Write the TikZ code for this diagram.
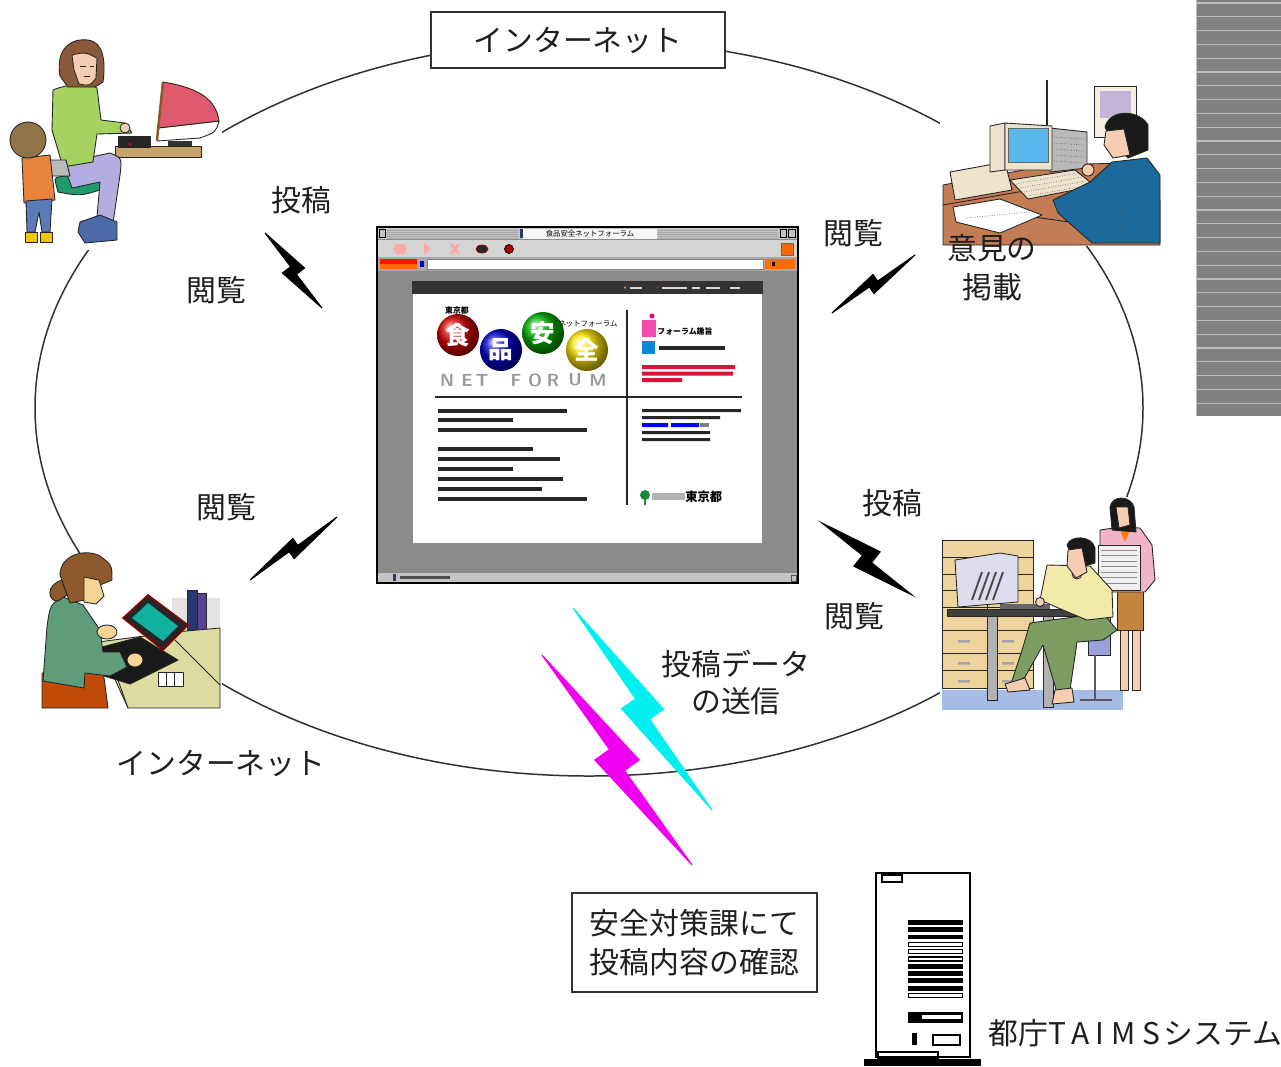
\documentclass[tikz,border=0pt]{standalone}
\usepackage{fontspec}
\newfontfamily\jp{Noto Sans CJK JP}
\usetikzlibrary{calc}

\definecolor{ringc}{HTML}{303030}
\definecolor{winbody}{HTML}{8B8B8B}
\definecolor{titlec}{HTML}{C4C4C4}
\definecolor{toolc}{HTML}{D4D4D4}
\definecolor{addrc}{HTML}{A8A8A8}
\definecolor{stripe}{HTML}{808080}
\definecolor{stripeline}{HTML}{BDBDBD}
\definecolor{skin}{HTML}{F6CDB0}
\definecolor{skinb}{HTML}{F6D494}
\definecolor{sweater}{HTML}{A6D262}
\definecolor{lav}{HTML}{B4AEE0}
\definecolor{seat}{HTML}{1F9A6A}
\definecolor{shoeb}{HTML}{4A6AA8}
\definecolor{hairA}{HTML}{8A5A3A}
\definecolor{hairB}{HTML}{8E7448}
\definecolor{kidtop}{HTML}{E8823C}
\definecolor{jeans}{HTML}{5A7AB8}
\definecolor{kidshoe}{HTML}{F2C600}
\definecolor{tanp}{HTML}{C9A46A}
\definecolor{pinkscr}{HTML}{E05A6E}
\definecolor{cream}{HTML}{F6EEDC}
\definecolor{creamb}{HTML}{EEE3CC}
\definecolor{lavpic}{HTML}{C4B4D8}
\definecolor{deskbr}{HTML}{C47C54}
\definecolor{scrblue}{HTML}{5AB8EC}
\definecolor{manblue}{HTML}{1C6A9C}
\definecolor{deskbg}{HTML}{DCDCA2}
\definecolor{tealscr}{HTML}{12B09E}
\definecolor{rust}{HTML}{C04A08}
\definecolor{sage}{HTML}{5E9C7C}
\definecolor{hairC}{HTML}{8E5A2C}
\definecolor{navyb}{HTML}{283870}
\definecolor{purpb}{HTML}{5A4090}
\definecolor{floorc}{HTML}{A6BCE4}
\definecolor{cab}{HTML}{ECD49C}
\definecolor{monc}{HTML}{DCDCEC}
\definecolor{chairc}{HTML}{9AA0D8}
\definecolor{pants}{HTML}{7C9C62}
\definecolor{shirt}{HTML}{F2EAA8}
\definecolor{pinktop}{HTML}{F2B4C8}
\definecolor{skirt}{HTML}{C4843C}
\definecolor{zcyan}{HTML}{00F0F0}
\definecolor{zmag}{HTML}{F000F0}
\definecolor{pagered}{HTML}{E0103A}
\definecolor{tokyog}{HTML}{1A8A3A}

% lightning bolt: start, end, jog factors (before/after middle), colour
\newcommand\zap[5]{%
  \coordinate (zs) at (#1);
  \coordinate (ze) at (#2);
  \coordinate (za) at ($(zs)!0.55!(ze)$);
  \coordinate (zb) at ($(zs)!0.45!(ze)$);
  \filldraw[fill=#5, draw=#5, line width=0.6pt, line join=miter]
    (zs) -- ($(za)!#3!90:(ze)$) -- (za) -- (ze) -- ($(zb)!#4!-90:(ze)$) -- (zb) -- cycle;
}

\begin{document}
\begin{tikzpicture}[x=0.02cm, y=-0.02cm,
  ring/.style={draw=ringc, line width=0.85pt},
  lbl/.style={font=\jp\fontsize{17}{22}\selectfont, inner sep=0pt, text=black!88},
  framed/.style={draw=black!80, line width=0.8pt, fill=white},
  art/.style={draw=black!85, line width=0.5pt, line join=round},
  tiny/.style={font=\jp\fontsize{4.2}{5}\selectfont, inner sep=0pt},
  bar/.style={fill=black!85},
]
\useasboundingbox (0,0) rectangle (1281,1066);
\fill[white] (0,0) rectangle (1281,1066);

% ---------- striped panel at the right edge ----------
\fill[stripe] (1196,0) rectangle (1281,416);
\draw[stripeline, line width=0.6pt] (1196.5,0) -- (1196.5,416);
\foreach \k in {0,...,29} \draw[stripeline, line width=0.7pt] (1197,3+13.8*\k) -- (1281,3+13.8*\k);

% ---------- the internet ring ----------
\draw[ring] (589,408) ellipse [x radius=554, y radius=368];

% ---------- user at home, top left ----------
\fill[white] (8,35) rectangle (222,250);
\filldraw[fill=tanp, art] (115,146) rectangle (201,157);
\filldraw[fill=white, art] (158,128) -- (219,121) .. controls (216,132) .. (200,138) -- (157,141) -- cycle;
\filldraw[fill=pinkscr, art] (163,82) .. controls (200,88) and (216,100) .. (219,121) -- (158,128) -- cycle;
\draw[line width=1.4pt, brown!70!black] (163,82) -- (157,140);
\fill[black!80] (168,141) rectangle (192,146);
\filldraw[fill=black!85, art] (118,136) rectangle (150,147);
\fill[red] (130,144) circle (1.5);
% chair and legs
\filldraw[fill=seat, art] (55,180) .. controls (56,176) .. (100,176) -- (100,190) .. controls (80,196) .. (58,192) -- cycle;
\filldraw[fill=lav, art] (63,163) -- (110,153) .. controls (122,158) .. (120,175) -- (112,230) -- (96,229) -- (100,182) -- (72,188) -- cycle;
\filldraw[fill=shoeb, art] (80,222) -- (100,215) -- (117,222) -- (117,240) -- (85,243) -- (78,232) -- cycle;
% woman
\filldraw[fill=sweater, art] (53,90) .. controls (70,83) and (90,83) .. (97,88) -- (101,120) -- (125,123) -- (132,133) -- (97,134) -- (93,162) -- (63,167) -- (52,130) -- cycle;
\filldraw[fill=skin, art] (125,128) circle (5);
\filldraw[fill=hairA, art] (60,76) .. controls (55,45) and (75,38) .. (88,40) .. controls (103,42) and (106,60) .. (103,82) -- (95,87) -- (68,87) -- cycle;
\filldraw[fill=skin, art] (72,55) .. controls (85,52) .. (97,58) -- (96,78) .. controls (90,86) .. (79,84) -- (74,70) -- cycle;
\draw[art] (80,66) -- (86,66) (90,66) -- (94,66) (84,76) -- (90,76);
% child
\filldraw[fill=gray!55, art] (45,160) -- (66,160) -- (70,176) -- (50,176) -- cycle;
\filldraw[fill=kidtop, art] (22,158) -- (50,155) -- (55,200) -- (24,203) -- cycle;
\filldraw[fill=jeans, art] (26,201) -- (52,199) -- (50,232) -- (42,232) -- (39,212) -- (35,232) -- (27,232) -- cycle;
\filldraw[fill=kidshoe, art] (25,232) rectangle (37,242) (40,232) rectangle (52,242);
\filldraw[fill=hairB, art] (28,140) circle (18);

% ---------- administrator, top right ----------
\fill[white] (940,75) rectangle (1160,246);
\draw[art, line width=0.8pt] (1047,80) -- (1047,128);
\filldraw[fill=cream, art] (1094,86) rectangle (1136,137);
\fill[lavpic] (1100,91) rectangle (1131,118);
\filldraw[fill=deskbr, art] (943,185) -- (1050,165) -- (1125,163) -- (1160,200) -- (1160,245) -- (943,245) -- cycle;
\draw[art] (943,205) -- (1030,190) (1020,215) -- (1160,235);
\filldraw[fill=white, art] (953,207) -- (1000,199) -- (1042,215) -- (1000,233) -- (956,222) -- cycle;
\draw[black!60, densely dotted] (965,218) -- (1030,212);
\filldraw[fill=creamb, art] (950,172) -- (1005,162) -- (1012,190) -- (955,200) -- cycle;
\filldraw[fill=gray!55, art] (1050,128) -- (1087,132) -- (1087,168) -- (1050,172) -- cycle;
\foreach \i in {0,...,4} \draw[black!60, densely dotted] (1054,137+6*\i) -- (1084,139+6*\i);
\filldraw[fill=creamb, art] (990,126) -- (1005,123) -- (1005,170) -- (990,172) -- cycle;
\filldraw[fill=creamb, art] (1005,123) -- (1052,126) -- (1052,170) -- (1005,170) -- cycle;
\filldraw[fill=scrblue, draw=black!60] (1008,128) rectangle (1048,162);
\filldraw[fill=creamb, art] (1010,180) -- (1075,170) -- (1095,186) -- (1028,199) -- cycle;
\foreach \i in {0,...,3} \draw[black!55, densely dotted] (1016+4*\i,184+4*\i) -- (1078+4*\i,173+4*\i);
\filldraw[fill=manblue, art] (1053,200) -- (1090,182) -- (1112,162) -- (1147,158) -- (1160,175) -- (1160,243) -- (1092,243) -- (1058,213) -- cycle;
\draw[black!70, densely dotted] (1128,170) -- (1120,230);
\filldraw[fill=skin, art] (1088,170) circle (6);
\filldraw[fill=black!90, art] (1105,127) .. controls (1110,108) and (1140,110) .. (1148,125) -- (1148,150) -- (1128,158) -- (1112,142) -- cycle;
\filldraw[fill=skin, art] (1106,131) -- (1124,129) -- (1130,155) -- (1113,158) -- (1104,145) -- cycle;

% ---------- user with tablet, bottom left ----------
\fill[white] (40,553) rectangle (222,710);
\fill[gray!22] (172,598) rectangle (220,640);
\filldraw[fill=navyb, art] (187,590) rectangle (197,637);
\filldraw[fill=purpb, art] (197,593) rectangle (206,637);
\filldraw[fill=deskbg, art] (98,642) -- (175,632) -- (220,628) -- (220,708) -- (128,708) -- cycle;
\draw[art] (110,658) -- (128,708) (175,640) -- (220,685);
\filldraw[fill=black!90, art] (98,648) -- (140,637) -- (178,660) -- (130,684) -- (104,676) -- cycle;
\filldraw[fill=black!85, draw=red!55!black, line width=0.9pt] (123,618) -- (148,595) -- (188,625) -- (163,650) -- cycle;
\fill[tealscr] (132,618) -- (148,603) -- (178,626) -- (163,641) -- cycle;
\filldraw[fill=white, art] (158,672) rectangle (183,686);
\draw[art] (166,672) -- (166,686) (174,672) -- (174,686);
\filldraw[fill=rust, art] (42,673) -- (103,670) -- (108,708) -- (42,708) -- cycle;
\filldraw[fill=sage, art] (47,627) .. controls (50,605) .. (63,597) -- (83,605) -- (100,630) -- (103,652) -- (120,652) -- (127,667) -- (110,676) -- (85,673) -- (84,688) -- (43,681) -- cycle;
\filldraw[fill=skinb, art] (107,632) ellipse [x radius=10, y radius=7];
\filldraw[fill=skinb, art] (135,660) ellipse [x radius=8, y radius=7];
\filldraw[fill=hairC, art] (62,580) .. controls (45,585) and (48,602) .. (58,601) -- (67,595) -- cycle;
\filldraw[fill=hairC, art] (60,575) .. controls (60,555) and (85,548) .. (100,556) .. controls (112,565) .. (112,580) -- (100,585) -- (85,600) -- (70,603) -- cycle;
\filldraw[fill=skinb, art] (84,577) -- (99,580) -- (104,596) -- (96,604) -- (84,602) -- cycle;

% ---------- office users, bottom right ----------
\fill[white] (940,497) rectangle (1160,712);
\fill[floorc] (942,690) rectangle (1123,710);
\filldraw[fill=cab, art] (942,540) rectangle (1033,688);
\foreach \y in {557,574,590,607,630,653,670} \draw[art] (942,\y) -- (1033,\y);
\draw[art] (987,557) -- (987,688);
\foreach \y in {640,662,680} \fill[gray!70] (958,\y) rectangle (970,\y+2.5) (1002,\y) rectangle (1014,\y+2.5);
% standing colleague
\filldraw[fill=skin, art] (1120,628) rectangle (1128,690) (1132,628) rectangle (1140,690);
\filldraw[fill=skirt, art] (1117,588) rectangle (1143,630);
\filldraw[fill=pinktop, art] (1100,530) -- (1120,527) -- (1140,528) -- (1152,545) -- (1155,580) -- (1145,592) -- (1100,592) -- cycle;
\filldraw[fill=gray!12, art] (1098,545) rectangle (1140,590);
\foreach \i in {0,...,6} \draw[black!45] (1101,550+5.5*\i) -- (1137,550+5.5*\i);
\fill[orange] (1119,528) -- (1131,528) -- (1125,542) -- cycle;
\filldraw[fill=black!90, art] (1110,507) .. controls (1112,495) and (1130,495) .. (1134,507) -- (1136,532) -- (1112,530) -- cycle;
\filldraw[fill=skin, art] (1116,507) -- (1128,507) -- (1130,525) -- (1119,528) -- cycle;
% desk and monitor
\filldraw[fill=monc, art] (955,560) -- (1000,553) -- (1018,556) -- (1018,602) -- (958,607) -- cycle;
\foreach \i in {0,...,3} \draw[black!70, line width=1.1pt] (972+7*\i,600) -- (982+7*\i,572);
\fill[black!60] (1000,604) rectangle (1050,609);
\filldraw[fill=black!75, art] (947,609) rectangle (1098,616);
\filldraw[fill=gray!60, art] (987,616) rectangle (997,700) (1043,616) rectangle (1053,707);
% chair
\filldraw[fill=chairc, art] (1088,592) rectangle (1110,655);
\draw[gray!70!black, line width=1.5pt] (1095,655) -- (1095,700) (1080,700) -- (1112,700);
% seated man
\filldraw[fill=pants, art] (1030,623) -- (1103,613) -- (1117,630) -- (1103,640) -- (1077,642) -- (1070,690) -- (1057,693) -- (1043,645) -- (1025,677) -- (1010,687) -- (1023,647) -- cycle;
\filldraw[fill=skin, art] (1005,684) -- (1025,678) -- (1030,690) -- (1008,692) -- cycle;
\filldraw[fill=skin, art] (1055,690) -- (1072,688) -- (1074,702) -- (1052,704) -- cycle;
\filldraw[fill=shirt, art] (1047,565) -- (1090,566) -- (1112,590) -- (1113,617) -- (1087,620) -- (1063,610) -- (1040,600) -- cycle;
\filldraw[fill=skin, art] (1040,602) circle (4.5);
\filldraw[fill=skin, art] (1077,574) circle (5);
\filldraw[fill=black!90, art] (1067,545) .. controls (1070,535) and (1092,535) .. (1095,548) -- (1095,563) -- (1085,566) -- (1070,552) -- cycle;
\filldraw[fill=skin, art] (1068,550) -- (1082,548) -- (1087,572) -- (1076,578) -- (1067,566) -- cycle;

% ---------- browser window with the forum page ----------
\filldraw[fill=winbody, draw=black, line width=0.9pt] (377,227) rectangle (798,583);
\fill[titlec] (378,228) rectangle (797,239);
\foreach \y in {230,232,...,238} \draw[gray!70, line width=0.25pt] (387,\y) -- (518,\y) (658,\y) -- (778,\y);
\draw[black, line width=0.4pt] (379,229) rectangle (385,237) (780,229) rectangle (786,237) (788,229) rectangle (795,237);
\fill[white!92!gray] (523,228.5) rectangle (657,238.5);
\fill[navyb] (520,229) rectangle (523,238);
\node[tiny] (wtitle) at (590,233.5) {食品安全ネットフォーラム};
\fill[toolc] (378,240) rectangle (797,257);
\fill[red!35] (396,244) -- (404,244) -- (407,249) -- (404,254) -- (396,254) -- (393,249) -- cycle;
\fill[red!35] (424,243) -- (431,249) -- (424,255) -- cycle;
\draw[red!35, line width=1.4pt] (451,244) -- (459,254) (459,244) -- (451,254);
\filldraw[fill=black!85, draw=red!60!black] (482,249) ellipse [x radius=6, y radius=4];
\filldraw[fill=red!70!black, draw=black] (509,249) circle (4.5);
\filldraw[fill=orange!80!red, draw=black!60] (781,243) rectangle (793,255);
\fill[addrc] (378,257) rectangle (797,271);
\fill[red!85!orange] (380,259) rectangle (417,264);
\fill[orange!85!red] (380,264) rectangle (417,269);
\fill[blue!80!black] (420,261) rectangle (424,267);
\filldraw[fill=white, draw=gray] (427,259) rectangle (763,269);
\fill[orange!85!red] (765,259) rectangle (795,269);
\fill[black] (772,262) rectangle (775,266);
\fill[winbody] (379,271) rectangle (796,572);
\fill[black!80] (412,281) rectangle (763,294);
\fill[orange] (625,287.5) circle (1.4);
\fill[red] (658,287.5) circle (1.2);
\foreach \x/\w in {630/12,662/25,692/8,706/14,730/10} \fill[white!70!gray] (\x,286.5) rectangle (\x+\w,288.5);
\fill[white] (413,294) rectangle (762,543);
\fill[titlec] (378,573) rectangle (797,582);
\fill[navyb] (393,574) rectangle (396,581);
\fill[black!70] (400,576) rectangle (450,579);
\draw[black!70] (791,575) rectangle (796,581);
% forum logo
\node[tiny, font=\jp\bfseries\fontsize{4.5}{5}\selectfont] (tokyo1) at (457,310) {東京都};
\node[tiny] (netforum) at (588,323.5) {ネットフォーラム};
\shade[ball color=red!85!black] (458,335) circle (21);
\shade[ball color=blue!80!black] (501,350) circle (21);
\shade[ball color=green!70!black] (543,333) circle (21);
\shade[ball color=yellow!80!orange] (587,350) circle (21);
\node[font=\jp\bfseries\fontsize{14}{14}\selectfont, text=white] (c1) at (458,335) {食};
\node[font=\jp\bfseries\fontsize{14}{14}\selectfont, text=white] (c2) at (501,350) {品};
\node[font=\jp\bfseries\fontsize{14}{14}\selectfont, text=white] (c3) at (543,333) {安};
\node[font=\jp\bfseries\fontsize{14}{14}\selectfont, text=white] (c4) at (587,350) {全};
\foreach \x/\c [count=\n] in {447/N,467/E,482/T,516/F,535/O,553/R,575/U,598/M}
  \node[font=\sffamily\bfseries\fontsize{10}{10}\selectfont, text=black!40, inner sep=0pt] (nf\n) at (\x,380) {\c};
\draw[black!85, line width=0.8pt] (627,310) -- (627,505);
\draw[black!85, line width=0.8pt] (435,397) -- (742,397);
% right column of the page
\fill[magenta!70] (642,320) rectangle (656,337);
\fill[magenta] (652,316) circle (2.5);
\node[tiny, anchor=west, font=\jp\bfseries\fontsize{4.5}{5}\selectfont] (pg1) at (657,331) {フォーラム趣旨};
\fill[cyan!70!blue] (642,341) rectangle (655,354);
\fill[bar] (659,346) rectangle (725,350);
\fill[pagered] (642,365) rectangle (735,369) (642,371.5) rectangle (733,375.5) (642,378) rectangle (682,382);
\fill[bar] (642,409) rectangle (741,412) (642,416) rectangle (720,419);
\fill[blue] (642,423) rectangle (668,427) (671,423) rectangle (699,427);
\fill[gray] (700,423) rectangle (709,427);
\fill[bar] (642,431) rectangle (710,434) (642,438) rectangle (710,441);
% left text block of the page
\foreach \y/\e in {411/567,420/513,430/587,449/533,459/560,469/513,479/563,489/542,499/587}
  \fill[bar] (438,\y-1.6) rectangle (\e,\y+1.6);
% tokyo logo
\fill[tokyog] (645,495) circle (5);
\fill[tokyog] (644,498) rectangle (646,505);
\fill[gray!60] (652,493) rectangle (685,500);
\node[tiny, anchor=west, font=\jp\bfseries\fontsize{7}{7}\selectfont] (tokyo2) at (685,497) {東京都};

% ---------- lightning bolts ----------
\zap{265,233}{322,308}{0.244}{0.2}{black}
\zap{832,313}{915,255}{0.178}{0.145}{black}
\zap{250,580}{337,517}{0.178}{0.145}{black}
\zap{822,523}{912,595}{0.267}{0.218}{black}
\zap{573,608}{712,810}{0.156}{0.127}{zcyan}
\zap{542,655}{692,865}{0.156}{0.127}{zmag}

% ---------- server ----------
\filldraw[fill=white, draw=black, line width=1.2pt] (876,873) rectangle (970,1057);
\draw[line width=0.8pt] (882,875) rectangle (902,882);
\foreach \i in {0,1,2,6,7,8,9} \fill (908,920+7.3*\i) rectangle (963,924.8+7.3*\i);
\foreach \i in {3,4,5,10} \draw[line width=0.6pt] (908.5,920.5+7.3*\i) rectangle (962.5,924.5+7.3*\i);
\fill (908,1012) rectangle (963,1023);
\fill[white] (922,1014.5) rectangle (961,1019);
\fill (912,1033) rectangle (917,1045);
\draw[line width=1pt] (933,1035) rectangle (960,1045);
\draw[line width=1pt] (878,1052) rectangle (938,1058);
\fill (864,1059) rectangle (981,1066);

% ---------- labels ----------
\node[lbl, framed, minimum width=5.88cm, minimum height=1.12cm] (inettop) at (578,40) {インターネット};
\node[lbl] (inetbot) at (221,763) {インターネット};
\node[lbl] (post1) at (301,200) {投稿};
\node[lbl] (view1) at (216,290) {閲覧};
\node[lbl] (view2) at (853,233) {閲覧};
\node[lbl] (pub1) at (992,248) {意見の};
\node[lbl] (pub2) at (992,287) {掲載};
\node[lbl] (view3) at (226,507) {閲覧};
\node[lbl] (post2) at (892,503) {投稿};
\node[lbl] (view4) at (854,616) {閲覧};
\node[lbl] (send1) at (736,664) {投稿データ};
\node[lbl] (send2) at (736,701) {の送信};
\node[lbl, framed, align=left, minimum width=4.9cm, minimum height=1.98cm] (check) at (694.5,942.5) {安全対策課にて\\投稿内容の確認};
\node[lbl, anchor=west] (taims) at (988,1033) {都庁{\addfontfeature{LetterSpace=22}TAIMS}\hspace{2pt}システム};
\end{tikzpicture}
\end{document}
